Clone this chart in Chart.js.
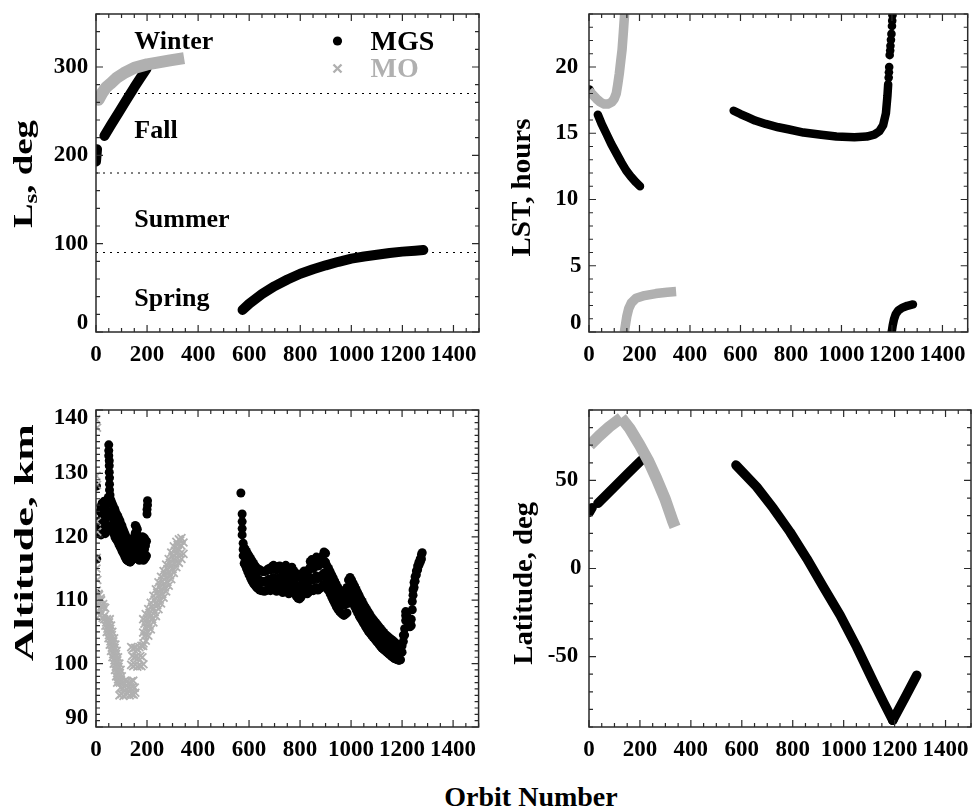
<!DOCTYPE html>
<html>
<head>
<meta charset="utf-8">
<script src="https://cdn.jsdelivr.net/npm/chart.js@4.4.1/dist/chart.umd.min.js"></script>
<style>
html,body{margin:0;padding:0;background:#fff;}
#wrap{position:relative;width:972px;height:808px;overflow:hidden;background:#fff;}
canvas{position:absolute;display:block;}
#xtitle{position:absolute;left:331px;top:783px;width:400px;text-align:center;font:bold 28px "Liberation Serif","Times New Roman",serif;line-height:28px;color:#000;white-space:nowrap;}
</style>
</head>
<body>
<div id="wrap">
<canvas id="c1" width="486" height="372" style="left:0;top:0;"></canvas>
<canvas id="c2" width="486" height="372" style="left:486px;top:0;"></canvas>
<canvas id="c3" width="486" height="387" style="left:0;top:380px;"></canvas>
<canvas id="c4" width="486" height="387" style="left:486px;top:380px;"></canvas>
<div id="xtitle">Orbit Number</div>
</div>
<script>
// ---------------- shared axis values ----------------
const X_MIN = 0, X_MAX = 1500, X_MINOR = 50;
const xTickValues = [0, 200, 400, 600, 800, 1000, 1200, 1400];

// ---------------- Panel 1: Ls (deg) ----------------
const lsTickValues = [0, 100, 200, 300];
const seasonBoundaries = [90, 180, 270];
const seasonNames = ['Winter', 'Fall', 'Summer', 'Spring'];
const seasonLabelLs = [320, 220, 119, 30];
const mgsLsOrbit = [0, 4, null, 33, 60, 90, 120, 150, 175, 198, null,
  574, 600, 650, 700, 750, 800, 850, 900, 950, 1000, 1050, 1100, 1150, 1200, 1250, 1282];
const mgsLs = [193, 207, null, 222, 235, 249, 263, 277, 288, 298, null,
  25, 32, 43, 52, 59.5, 66, 71, 75.5, 79.5, 83, 85.5, 87.5, 89.5, 91, 92, 92.8];
const moLsOrbit = [0, 10, 25, 40, 56, 80, 109, 150, 200, 240, 290, 345];
const moLs = [268, 263, 271, 277, 281, 287.5, 293, 299, 303, 305, 307.5, 310];

// ---------------- Panel 2: LST (hours) ----------------
const lstTickValues = [0, 5, 10, 15, 20];
const mgsLstOrbit = [2, 7, null, 35, 50, 68, 88, 108, 128, 147, 167, 186, 202, null,
  573, 600, 630, 658, 700, 750, 789, 850, 920, 980, 1051, 1100, 1130, 1150, 1165, 1176, 1182, 1185, null,
  1199, 1203, 1208, 1215, 1225, 1240, 1261, 1283];
const mgsLst = [18.3, 18.1, null, 16.4, 15.7, 15.0, 14.2, 13.5, 12.8, 12.2, 11.7, 11.3, 11.0, null,
  16.7, 16.45, 16.2, 15.96, 15.7, 15.45, 15.3, 15.05, 14.88, 14.75, 14.7, 14.75, 14.9, 15.15, 15.6, 16.5, 17.8, 18.7, null,
  0, 0.5, 0.95, 1.35, 1.62, 1.82, 1.98, 2.08];
const mgsLstSparseOrbit = [1187, 1188, 1189, 1191, 1193, 1194, 1196, 1198, 1200, 1201, 1202];
const mgsLstSparse = [19.2, 19.6, 20.0, 20.9, 21.25, 21.6, 22.05, 22.5, 23.1, 23.5, 23.9];
const moLstOrbit = [0, 15, 30, 45, 60, 75, 90, 100, 108, 114, 120, 126, 131, 136, 141, null,
  140, 145, 150, 157, 168, 186, 220, 265, 310, 345];
const moLst = [18.2, 17.9, 17.6, 17.35, 17.2, 17.2, 17.35, 17.6, 18.0, 18.7, 19.5, 20.5, 21.3, 22.6, 24.0, null,
  0, 0.6, 1.2, 1.75, 2.2, 2.55, 2.75, 2.9, 3.0, 3.05];

// ---------------- Panel 3: Altitude (km) ----------------
const altTickValues = [90, 100, 110, 120, 130, 140];
const mgsAltOrbit = [
  2, 2, 3, 3, 2,
  12, 12, 16, 16, 20, 20, 20, 24, 24, 24, 28, 28, 28, 32, 32, 32, 36, 36, 36, 40, 40, 40, 44, 44, 44, 48, 48, 48,
  50, 50, 50, 52, 52, 52, 53, 53, 53, 55, 55,
  58, 58, 58, 62, 62, 62, 66, 66, 66, 70, 70, 70, 74, 74, 74, 78, 78, 78, 82, 82, 82, 86, 86, 86, 90, 90, 90,
  94, 94, 94, 98, 98, 98, 102, 102, 102, 106, 106, 106, 110, 110, 110, 114, 114, 114, 118, 118, 118,
  122, 122, 122, 126, 126, 126, 130, 130, 130, 134, 134, 134, 138, 138, 138, 142, 142, 142, 146, 146, 146,
  150, 150, 150, 154, 154, 154, 154, 158, 158, 158, 158, 162, 162, 162, 162, 166, 166, 166, 170, 170, 170,
  174, 174, 174, 178, 178, 178, 182, 182, 182, 186, 186, 186, 190, 190, 190, 194, 194, 198, 198,
  200, 200, 202, 202,
  568, 573, 573, 573, 573, 577, 577, 577,
  581, 581, 581, 585, 585, 585, 590, 590, 590, 595, 595, 595, 600, 600, 600, 606, 606, 606, 612, 612, 612,
  618, 618, 618, 624, 624, 624, 630, 630, 630, 636, 636, 636, 642, 642, 642, 648, 648, 648, 654, 654, 654,
  660, 660, 660, 666, 666, 666, 672, 672, 672, 678, 678, 678, 684, 684, 684, 690, 690, 690, 696, 696, 696,
  702, 702, 702, 708, 708, 708, 714, 714, 714, 720, 720, 720, 726, 726, 726, 732, 732, 732, 738, 738, 738,
  744, 744, 744, 750, 750, 750, 756, 756, 756, 762, 762, 762, 768, 768, 768, 774, 774, 774, 780, 780, 780,
  786, 786, 786, 792, 792, 792, 798, 798, 798, 804, 804, 804, 810, 810, 810, 816, 816, 816, 822, 822, 822,
  828, 828, 828, 834, 834, 834, 840, 840, 840, 840, 846, 846, 846, 846, 852, 852, 852, 858, 858, 858,
  864, 864, 864, 864, 870, 870, 870, 876, 876, 876, 882, 882, 882, 888, 888, 888, 888, 894, 894, 894, 894,
  900, 900, 900, 900, 906, 906, 906, 912, 912, 912, 918, 918, 918, 924, 924, 924, 930, 930, 930,
  936, 936, 936, 942, 942, 942, 948, 948, 948, 954, 954, 954, 960, 960, 960, 966, 966, 966, 972, 972, 972,
  978, 978, 978, 984, 984, 984, 990, 990, 990, 996, 996, 996,
  1002, 1002, 1002, 1008, 1008, 1008, 1014, 1014, 1014, 1020, 1020, 1020, 1026, 1026, 1026, 1032, 1032, 1032,
  1038, 1038, 1038, 1044, 1044, 1044, 1050, 1050, 1050, 1056, 1056, 1056, 1062, 1062, 1062, 1068, 1068, 1068,
  1074, 1074, 1074, 1080, 1080, 1080, 1086, 1086, 1086, 1092, 1092, 1092, 1098, 1098, 1098, 1104, 1104, 1104,
  1110, 1110, 1110, 1116, 1116, 1116, 1122, 1122, 1122, 1128, 1128, 1128, 1134, 1134, 1134, 1140, 1140, 1140,
  1146, 1146, 1146, 1152, 1152, 1152, 1158, 1158, 1158, 1164, 1164, 1164, 1170, 1170, 1170, 1176, 1176, 1176,
  1182, 1182, 1182, 1188, 1188, 1188, 1194, 1194,
  1200, 1200, 1205, 1205, 1210, 1210, 1214, 1214, 1214, 1219, 1219, 1225, 1225, 1231, 1231, 1236, 1236,
  1240, 1240, 1243, 1243, 1247, 1247, 1251, 1251, 1256, 1256, 1261, 1261, 1266, 1266, 1271, 1271, 1276, 1276, 1279];
const mgsAlt = [
  128, 122, 120.5, 116.5, 111,
  120.5, 122.5, 121.5, 124, 120.3, 122.5, 124.8, 121, 123.5, 125.3, 120.8, 123, 125, 121.5, 124, 125.6,
  120.5, 122.8, 124.8, 121.3, 123.6, 125.5, 121, 123.2, 125.3, 121.8, 124, 126.2,
  134.5, 133.6, 132.8, 132, 131.2, 130.2, 129.3, 128.3, 127.4, 126.6, 125.6,
  121.5, 123.8, 125.8, 121.2, 123.3, 125.4, 120.8, 123, 125, 120.5, 122.6, 124.6, 120, 122.3, 124.3,
  119.7, 121.8, 123.8, 119.5, 121.5, 123.5, 119.2, 121.2, 123.2, 118.8, 120.8, 122.8,
  118.5, 120.5, 122.5, 118.2, 120, 122, 117.8, 119.7, 121.7, 117.5, 119.3, 121.2, 117.2, 119, 120.8,
  116.8, 118.6, 120.4, 116.5, 118.3, 120,
  116.3, 118, 119.6, 116.2, 117.6, 119.2, 116.1, 117.4, 118.8, 116, 117.3, 118.6, 116.2, 117.4, 118.8,
  116.4, 117.8, 119.2, 116.5, 118, 119.5,
  116.6, 118.2, 120, 116.8, 118.6, 120.6, 121.8, 117, 119, 120.8, 121.6, 116.8, 118.5, 120.3, 121.2,
  116.5, 118, 119.8, 116.3, 117.8, 119.4,
  116.5, 118, 119.6, 116.8, 118.3, 119.8, 116.5, 118.4, 120, 116.3, 117.8, 119.5, 116.5, 118, 119.8,
  116.7, 118.6, 117, 119.3,
  123.6, 124.3, 125, 125.7,
  126.9, 123.6, 122.4, 121.3, 120.3, 119, 118, 117,
  115.8, 117, 118.3, 115.5, 116.8, 118, 115, 116.4, 117.7, 114.5, 116, 117.3, 114, 115.5, 117,
  113.5, 115, 116.6, 113, 114.6, 116.2,
  112.6, 114.2, 115.8, 112.3, 113.8, 115.4, 112, 113.5, 115.1, 111.8, 113.3, 114.9, 111.6, 113.1, 114.8,
  111.5, 113, 114.6, 111.5, 112.9, 114.5,
  111.4, 112.9, 114.5, 111.5, 113, 114.6, 111.6, 113.1, 114.8, 111.8, 113.3, 115, 111.5, 113, 114.8,
  111.8, 113.4, 115.3, 112, 113.6, 115.5,
  111.6, 113.2, 115, 111.4, 113, 114.8, 111.8, 113.4, 115.3, 112, 113.6, 115.4, 111.6, 113.2, 115,
  111.2, 112.8, 114.6, 111.6, 113.3, 115.1,
  112, 113.6, 115.5, 111.4, 113, 114.8, 111, 112.7, 114.5, 111.5, 113.1, 114.9, 111.8, 113.4, 115.2,
  111.3, 113, 114.7, 111, 112.6, 114.4,
  110.6, 112.3, 114, 110.3, 112, 113.8, 110.2, 111.9, 113.6, 110.5, 112.2, 114, 111, 112.6, 114.3,
  111.4, 113, 114.6, 111.2, 112.8, 114.4,
  111, 112.6, 114.2, 111.3, 113, 114.8, 111.6, 113.3, 115.2, 116.1, 111.8, 113.5, 115.4, 116.4,
  111.5, 113.2, 115, 111.8, 113.5, 115.5,
  112, 113.8, 115.8, 116.8, 111.6, 113.4, 115.4, 111.8, 113.6, 115.6, 112, 113.8, 115.8,
  112.3, 114, 116, 117, 112.5, 114.3, 116.2, 117.6,
  112.2, 114, 116, 117.4, 111.8, 113.5, 115.4, 111.5, 113.2, 115, 111, 112.7, 114.5, 110.5, 112.2, 114,
  110, 111.7, 113.5,
  109.5, 111.2, 113, 109, 110.8, 112.5, 108.6, 110.4, 112, 108.3, 110, 111.7, 108, 109.7, 111.4,
  107.8, 109.4, 111.2, 107.6, 109.2, 111,
  107.8, 109.4, 111.2, 108, 110, 112, 109.5, 111.3, 113.2, 110.3, 112, 113.6,
  110, 111.6, 113.2, 109.5, 111.1, 112.7, 109, 110.6, 112.2, 108.5, 110.1, 111.7, 108, 109.6, 111.2,
  107.5, 109.1, 110.7,
  107.1, 108.7, 110.2, 106.7, 108.2, 109.8, 106.3, 107.8, 109.3, 105.9, 107.4, 108.9, 105.5, 107, 108.5,
  105.1, 106.6, 108.1,
  104.8, 106.2, 107.7, 104.5, 105.9, 107.3, 104.2, 105.6, 107, 103.9, 105.3, 106.7, 103.6, 105, 106.4,
  103.3, 104.7, 106.1,
  103, 104.4, 105.8, 102.7, 104.1, 105.5, 102.4, 103.8, 105.2, 102.2, 103.6, 104.9, 102, 103.3, 104.6,
  101.8, 103.1, 104.4,
  101.6, 102.9, 104.2, 101.4, 102.7, 104, 101.2, 102.5, 103.8, 101, 102.3, 103.6, 100.8, 102.1, 103.4,
  100.7, 101.9, 103.2,
  100.6, 101.7, 103, 100.5, 101.5, 102.8, 100.6, 101.8,
  101.8, 102.8, 103.5, 104.5, 104.5, 105.5, 106.8, 107.6, 108.2, 106.8, 107.5, 106.3, 107, 105.8, 106.5, 106, 107,
  108.5, 109.8, 110.8, 111.6, 112, 112.8, 113, 113.7, 114, 114.6, 114.8, 115.4, 115.5, 116, 116, 116.5, 116.5, 117.2, 117.5];
const moAltOrbit = [
  2, 4, 2, 4, 3, 5, 3, 2, 5, 3,
  4, 8, 12, 16, 20, 24, 28, 32, 36, 6, 14, 22, 30, 10, 18, 26,
  32, 43, 54, 37, 48, 59, 42, 53, 64, 49, 60, 71, 54, 65, 76, 59, 70, 81, 64.5, 75.5, 86.5, 69.5, 80.5, 91.5,
  74.5, 85.5, 96.5, 79, 90, 101, 83, 94, 105,
  40, 51, 45, 56, 51, 62, 57, 68, 62, 73, 67.5, 78.5, 72.5, 83.5, 77.5, 88.5, 82.5, 93.5, 86.5, 97.5,
  92, 100, 108, 116, 124, 132, 140, 148, 154, 96, 104, 112, 120, 128, 136, 144, 152, 90, 98, 106, 114, 122, 130, 138, 146,
  138, 146, 154, 162, 170, 178, 186, 142, 150, 158, 166, 174, 182, 138, 146, 154, 162, 170, 178, 186,
  185, 185, 185, 195, 195, 195, 205, 205, 205, 215, 215, 215, 225, 225, 225, 235, 235, 235, 245, 245, 245,
  255, 255, 255, 265, 265, 265, 275, 275, 275, 285, 285, 285, 295, 295, 295, 305, 305, 305, 315, 315, 315,
  325, 325, 325, 335, 335, 335, 343, 343,
  190, 190, 200, 200, 210, 210, 220, 220, 230, 230, 240, 240, 250, 250, 260, 260, 270, 270, 280, 280,
  290, 290, 300, 300, 310, 310, 320, 320, 330, 330];
const moAlt = [
  138.5, 137.2, 129.6, 128.2, 122.4, 120.8, 116.7, 115, 113.2, 111.5,
  110.5, 109.2, 110.8, 108.6, 110, 108, 109.4, 107.5, 108.8, 108, 107.6, 109, 108.9, 111, 110.3, 107.2,
  107, 107, 107, 106, 106, 106, 105, 105, 105, 104, 104, 104, 103, 103, 103, 102, 102, 102, 101, 101, 101,
  100, 100, 100, 99, 99, 99, 98, 98, 98, 97, 97, 97,
  106.5, 106.5, 105.5, 105.5, 104.5, 104.5, 103.5, 103.5, 102.5, 102.5, 101.5, 101.5, 100.5, 100.5, 99.5, 99.5,
  98.5, 98.5, 97.5, 97.5,
  95, 95.2, 94.9, 95.1, 95.3, 95, 95.2, 95.1, 95.4, 96.2, 96.1, 96.3, 96, 96.2, 96.1, 96.3, 96.2,
  97.2, 97.3, 97.1, 97.3, 97.2, 97, 97.2, 97.3,
  99.8, 99.6, 99.8, 99.5, 99.7, 99.6, 99.9, 101.2, 101, 101.1, 100.9, 101.2, 101, 102.6, 102.4, 102.5, 102.3, 102.6, 102.8, 103.2,
  102.8, 104.9, 107, 103.6, 105.7, 107.8, 104.4, 106.5, 108.6, 105.4, 107.5, 109.6, 106.5, 108.6, 110.7,
  107.5, 109.6, 111.7, 108.6, 110.7, 112.8,
  109.5, 111.6, 113.7, 110.4, 112.5, 114.6, 111.4, 113.5, 115.6, 112.3, 114.4, 116.5, 113.3, 115.4, 117.5,
  114.3, 116.4, 118.5, 115.2, 117.3, 119.2,
  115.9, 118, 119.6, 116.5, 118.6, 119.8, 117.3, 119.1,
  104.3, 106.3, 105.1, 107.1, 106, 108, 107, 109, 108.1, 110.1, 109.2, 111.2, 110.1, 112.1, 111, 113,
  112, 114, 112.9, 114.9,
  113.9, 115.9, 114.9, 116.9, 115.8, 117.8, 116.6, 118.7, 117.3, 119.4];

// ---------------- Panel 4: Latitude (deg) ----------------
const latTickValues = [-50, 0, 50];
const mgsLatOrbit = [2, 12, null, 35, 100, 150, 206, null,
  577, 658, 724, 789, 855, 920, 986, 1051, 1117, 1156, 1193, null, 1193, 1240, 1287];
const mgsLat = [32, 34.5, null, 37, 46.4, 53.6, 61.5, null,
  58.7, 46.4, 34.1, 20.8, 5.7, -10.4, -26.5, -44.5, -64.4, -75.8, -86.2, null, -86.2, -73.5, -60.6];
const moLatOrbit = [3, 40, 80, 127, null, 127, 160, 199, 232, 265, 298, 330, 338];
const moLat = [70, 75.3, 80.5, 85.6, null, 85.6, 79.5, 70.1, 61.5, 51.1, 39.8, 26.5, 23.6];

// ---------------- helpers ----------------
const GRAY = '#b0b0b0';
const FONT = '"Liberation Serif", "Times New Roman", serif';

function segments(orbits, vals) {
  const out = []; let cur = [];
  orbits.forEach((o, i) => {
    if (o === null || vals[i] === null) { if (cur.length) out.push(cur); cur = []; }
    else cur.push({x: o, y: vals[i]});
  });
  if (cur.length) out.push(cur);
  return out;
}
function zip(orbits, vals) { return orbits.map((o, i) => ({x: o, y: vals[i]})); }

function mgsLine(orbits, vals, w) {
  return segments(orbits, vals).map(d => ({label: 'MGS', data: d, showLine: true, borderColor: '#000',
    backgroundColor: '#000', borderWidth: w, borderCapStyle: 'round', borderJoinStyle: 'round',
    pointRadius: 0, pointHoverRadius: 0, tension: 0, clip: 0, order: 2}));
}
function moLine(orbits, vals, w) {
  return segments(orbits, vals).map(d => ({label: 'MO', data: d, showLine: true, borderColor: GRAY,
    backgroundColor: GRAY, borderWidth: w, borderCapStyle: 'butt', borderJoinStyle: 'round',
    pointRadius: 0, pointHoverRadius: 0, tension: 0, clip: 0, order: 1}));
}
function mgsDots(orbits, vals, r) {
  return {label: 'MGS', data: zip(orbits, vals), showLine: false, pointStyle: 'circle', pointRadius: r,
    pointHoverRadius: r, pointBackgroundColor: '#000', pointBorderColor: '#000', pointBorderWidth: 0, clip: 0, order: 2};
}
function moCrosses(orbits, vals, r) {
  return {label: 'MO', data: zip(orbits, vals), showLine: false, pointStyle: 'crossRot', pointRadius: r,
    pointHoverRadius: r, pointBackgroundColor: GRAY, pointBorderColor: GRAY, pointBorderWidth: 1.8, clip: 0, order: 1};
}

function drawVTitle(ctx, t) {
  let total = 0;
  t.parts.forEach(p => { ctx.font = 'bold ' + p.s + 'px ' + FONT; p.w = ctx.measureText(p.t).width; total += p.w; });
  ctx.save();
  ctx.translate(t.x, t.yc);
  ctx.rotate(-Math.PI / 2);
  ctx.scale(t.len / total, 1);
  ctx.fillStyle = '#000'; ctx.textAlign = 'left'; ctx.textBaseline = 'alphabetic';
  let xx = -total / 2;
  t.parts.forEach(p => { ctx.font = 'bold ' + p.s + 'px ' + FONT; ctx.fillText(p.t, xx, p.dy || 0); xx += p.w; });
  ctx.restore();
}

function framePlugin(p) {
  return {
    id: 'frame' + p.id,
    afterDraw(chart) {
      const ctx = chart.ctx, a = chart.chartArea, xs = chart.scales.x, ys = chart.scales.y;
      ctx.save();
      ctx.strokeStyle = '#2a2a2a'; ctx.lineWidth = 1.2;
      ctx.beginPath();
      for (let i = 0; X_MIN + i * X_MINOR <= X_MAX; i++) {
        const v = X_MIN + i * X_MINOR;
        const px = xs.getPixelForValue(v);
        const len = xTickValues.includes(v) ? 7 : 4;
        ctx.moveTo(px, a.bottom); ctx.lineTo(px, a.bottom - len);
        ctx.moveTo(px, a.top); ctx.lineTo(px, a.top + len);
      }
      for (let i = 0; p.yMin + i * p.yMinor <= p.yMax + 1e-9; i++) {
        const v = p.yMin + i * p.yMinor;
        const py = ys.getPixelForValue(v);
        const len = p.yLabels.includes(v) ? 7 : 4;
        ctx.moveTo(a.left, py); ctx.lineTo(a.left + len, py);
        ctx.moveTo(a.right, py); ctx.lineTo(a.right - len, py);
      }
      ctx.stroke();
      ctx.lineWidth = 1.5;
      ctx.strokeRect(a.left, a.top, a.right - a.left, a.bottom - a.top);
      // y tick labels
      ctx.font = 'bold 23px ' + FONT; ctx.fillStyle = '#000';
      ctx.textAlign = 'right'; ctx.textBaseline = 'middle';
      p.yLabels.forEach(v => {
        let py = ys.getPixelForValue(v);
        py = Math.min(Math.max(py, a.top + 8.5), a.bottom - 8.5);
        const s = String(v);
        ctx.fillText(s, a.left - (s.length === 1 ? p.gap1 : p.gap), py);
      });
      drawVTitle(ctx, p.title);
      ctx.restore();
    }
  };
}

const seasonPlugin = {
  id: 'seasons',
  afterDatasetsDraw(chart) {
    const ctx = chart.ctx, xs = chart.scales.x, ys = chart.scales.y;
    ctx.save();
    ctx.font = 'bold 26px ' + FONT; ctx.fillStyle = '#000';
    ctx.textAlign = 'left'; ctx.textBaseline = 'alphabetic';
    seasonNames.forEach((n, i) => ctx.fillText(n, xs.getPixelForValue(150), ys.getPixelForValue(seasonLabelLs[i])));
    // legend
    ctx.font = 'bold 28px ' + FONT;
    ctx.fillStyle = '#000';
    ctx.beginPath(); ctx.arc(337.5, 41, 4.6, 0, Math.PI * 2); ctx.fill();
    ctx.fillText('MGS', 370.5, 50);
    ctx.strokeStyle = GRAY; ctx.lineWidth = 2.4;
    ctx.beginPath();
    ctx.moveTo(333.5, 64.5); ctx.lineTo(341.5, 72.5);
    ctx.moveTo(341.5, 64.5); ctx.lineTo(333.5, 72.5);
    ctx.stroke();
    ctx.fillStyle = GRAY;
    ctx.fillText('MO', 370.5, 77);
    ctx.restore();
  }
};

function makeChart(id, datasets, p) {
  const cv = document.getElementById(id);
  return new Chart(cv.getContext('2d'), {
    type: 'scatter',
    data: {datasets},
    options: {
      responsive: false, animation: false, events: [], devicePixelRatio: 1,
      layout: {padding: p.pad},
      plugins: {legend: {display: false}, tooltip: {enabled: false}},
      scales: {
        x: {
          type: 'linear', min: X_MIN, max: X_MAX,
          grid: {display: false, drawTicks: false}, border: {display: false},
          ticks: {font: {family: FONT, size: 23, weight: 'bold'}, color: '#000', padding: 9.5,
                  autoSkip: false, maxRotation: 0, minRotation: 0, callback: v => String(v)},
          afterBuildTicks: s => { s.ticks = xTickValues.map(v => ({value: v})); },
          afterFit: s => { s.height = 40; s.paddingLeft = 0; s.paddingRight = 0; }
        },
        y: {
          type: 'linear', min: p.yMin, max: p.yMax,
          grid: {display: false, drawTicks: false}, border: {display: false},
          ticks: {display: false},
          afterFit: s => { s.width = p.yW; s.paddingTop = 0; s.paddingBottom = 0; }
        }
      }
    },
    plugins: [framePlugin(p)].concat(p.extra || [])
  });
}

// ---------------- Panel 1 ----------------
const ds1 = []
  .concat(moLine(moLsOrbit, moLs, 12))
  .concat(mgsLine(mgsLsOrbit, mgsLs, 10))
  .concat(seasonBoundaries.map(v => ({label: 'season', data: [{x: X_MIN, y: v}, {x: X_MAX, y: v}],
    showLine: true, borderColor: '#000', borderWidth: 1, borderDash: [2, 5], pointRadius: 0, clip: 0, order: 3})));
makeChart('c1', ds1, {id: 1, yMin: 0, yMax: 360, yMinor: 20, yLabels: lsTickValues, yW: 96,
  gap: 7.7, gap1: 7.7, pad: {left: 0, right: 7, top: 14, bottom: 0},
  title: {x: 32, yc: 174, len: 108, parts: [{t: 'L', s: 28}, {t: 's', s: 19, dy: 5}, {t: ', deg', s: 28}]},
  extra: [seasonPlugin]});

// ---------------- Panel 2 ----------------
const ds2 = []
  .concat(moLine(moLstOrbit, moLst, 9.5))
  .concat(mgsLine(mgsLstOrbit, mgsLst, 8.5))
  .concat([mgsDots(mgsLstSparseOrbit, mgsLstSparse, 4.3)]);
makeChart('c2', ds2, {id: 2, yMin: 0, yMax: 24, yMinor: 1, yLabels: lstTickValues, yW: 103,
  gap: 10.7, gap1: 7.5, pad: {left: 0, right: 1, top: 14, bottom: 0},
  title: {x: 44, yc: 187.5, len: 138, parts: [{t: 'LST, hours', s: 28}]}});

// ---------------- Panel 3 ----------------
const ds3 = [moCrosses(moAltOrbit, moAlt, 5.6), mgsDots(mgsAltOrbit, mgsAlt, 4.5)];
makeChart('c3', ds3, {id: 3, yMin: 90, yMax: 140, yMinor: 1, yLabels: altTickValues, yW: 96,
  gap: 7.7, gap1: 7.7, pad: {left: 0, right: 7, top: 30, bottom: 0},
  title: {x: 33.3, yc: 162.7, len: 237, parts: [{t: 'Altitude, km', s: 28}]}});

// ---------------- Panel 4 ----------------
const ds4 = []
  .concat(moLine(moLatOrbit, moLat, 11.5))
  .concat(mgsLine(mgsLatOrbit, mgsLat, 9.5));
makeChart('c4', ds4, {id: 4, yMin: -90, yMax: 90, yMinor: 10, yLabels: latTickValues, yW: 103,
  gap: 10.7, gap1: 7.5, pad: {left: 0, right: 1, top: 30, bottom: 0},
  title: {x: 45.7, yc: 203.3, len: 163, parts: [{t: 'Latitude, deg', s: 28}]}});
</script>
</body>
</html>
